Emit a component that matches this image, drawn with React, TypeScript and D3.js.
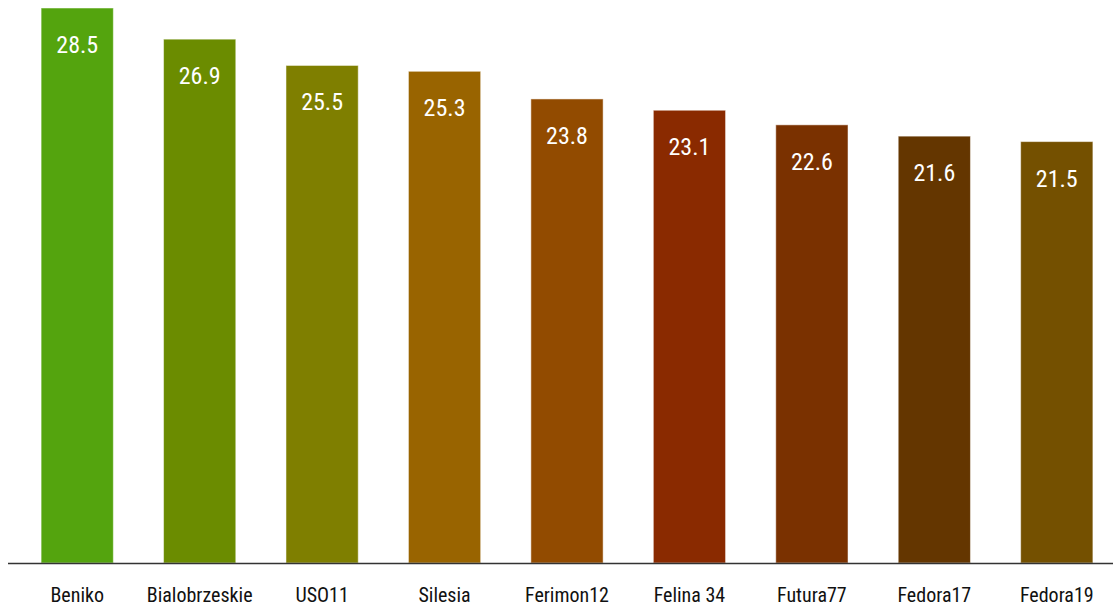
import { useEffect, useRef } from "react"
import * as d3 from "d3"

const categories = ["Beniko", "Bialobrzeskie", "USO11", "Silesia", "Ferimon12", "Felina 34", "Futura77", "Fedora17", "Fedora19"]
// bar heights
const values = [28.5, 26.9, 25.55, 25.25, 23.83, 23.25, 22.5, 21.92, 21.64]
// labels as printed on the bars
const valueLabels = ["28.5", "26.9", "25.5", "25.3", "23.8", "23.1", "22.6", "21.6", "21.5"]
const colors = ["#54a40e", "#6b8c00", "#7f7f00", "#996400", "#924b00", "#8a2a00", "#7a3100", "#643600", "#745000"]

const FONT = "'Liberation Sans Narrow', 'Roboto Condensed', Roboto, sans-serif"

export default function App() {
  const svgRef = useRef<SVGSVGElement>(null)

  useEffect(() => {
    if (!svgRef.current) return
    const svg = d3.select(svgRef.current)
    svg.selectAll("*").remove()

    const width = 1113
    const height = 606
    const baseY = 563

    const x = d3.scaleBand<string>()
      .domain(categories)
      .range([16, 1118])
      .paddingInner(0.41)
      .paddingOuter(0.205)

    const y = d3.scaleLinear().domain([0, 28.5]).range([baseY, 8])

    svg.attr("width", width).attr("height", height)

    const data = categories.map((c, i) => ({ name: c, value: values[i], label: valueLabels[i], color: colors[i] }))

    // Bars
    svg.append("g")
      .selectAll("rect")
      .data(data)
      .enter()
      .append("rect")
      .attr("x", d => x(d.name)!)
      .attr("y", d => y(d.value))
      .attr("width", x.bandwidth())
      .attr("height", d => baseY - y(d.value))
      .attr("fill", d => d.color)
      .attr("stroke", "rgba(255,255,255,0.5)")
      .attr("stroke-width", 1)

    // Value labels
    svg.append("g")
      .selectAll("text")
      .data(data)
      .enter()
      .append("text")
      .attr("x", d => x(d.name)! + x.bandwidth() / 2)
      .attr("y", d => y(d.value) + 45)
      .attr("text-anchor", "middle")
      .attr("font-family", FONT)
      .attr("font-size", "24px")
      .attr("fill", "#fff")
      .text(d => d.label)

    // Axis line
    svg.append("line")
      .attr("x1", 8)
      .attr("x2", width)
      .attr("y1", baseY + 0.5)
      .attr("y2", baseY + 0.5)
      .attr("stroke", "#333")
      .attr("stroke-width", 1.5)

    // Category labels
    svg.append("g")
      .selectAll("text")
      .data(data)
      .enter()
      .append("text")
      .attr("x", d => x(d.name)! + x.bandwidth() / 2)
      .attr("y", 602)
      .attr("text-anchor", "middle")
      .attr("font-family", FONT)
      .attr("font-size", "20px")
      .attr("fill", "#111")
      .text(d => d.name)
  }, [])

  return (
    <div style={{ position: "absolute", left: 0, top: 0 }}>
      <svg ref={svgRef} style={{ display: "block" }} />
    </div>
  )
}
